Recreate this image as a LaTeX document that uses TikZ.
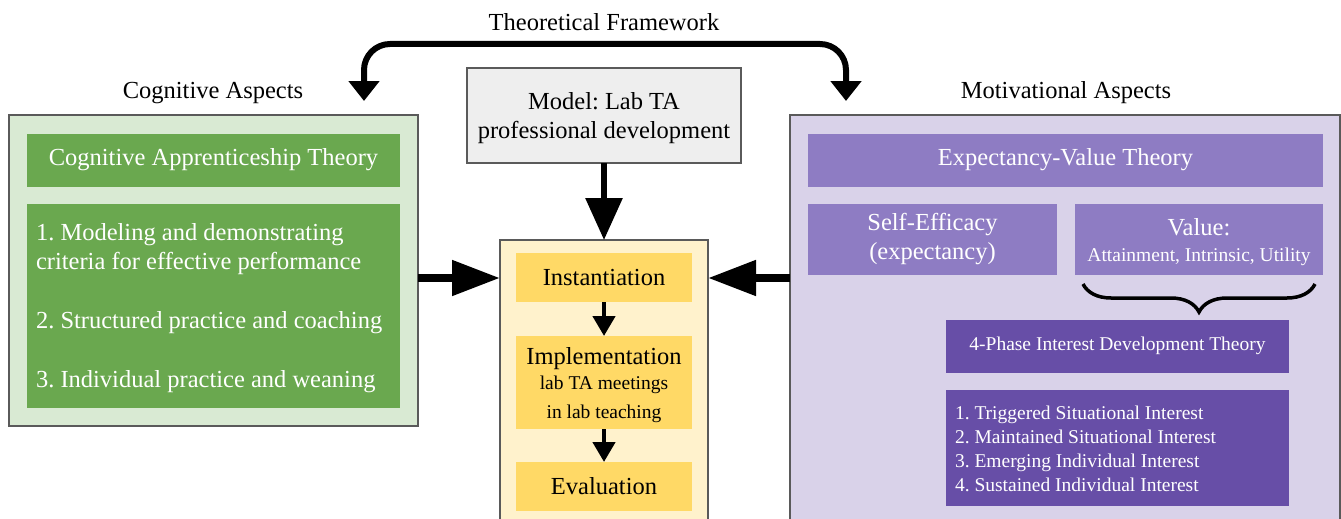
\documentclass[tikz,border=0pt]{standalone}
\usepackage{fontspec}
\setmainfont{Liberation Serif}
\frenchspacing
\usetikzlibrary{arrows.meta,decorations.pathreplacing,calc}
\definecolor{gpanel}{HTML}{D9EAD3}
\definecolor{ghead}{HTML}{6AA84F}
\definecolor{ypanel}{HTML}{FFF2CC}
\definecolor{yhead}{HTML}{FFD966}
\definecolor{ppanel}{HTML}{D9D2E9}
\definecolor{phead}{HTML}{8E7CC3}
\definecolor{pdark}{HTML}{674EA7}
\definecolor{mgray}{HTML}{EEEEEE}
\definecolor{bord}{HTML}{5A5A5A}
\begin{document}
\begin{tikzpicture}[x=1pt,y=-1pt,
  every node/.style={font=\fontsize{24.5}{29}\selectfont, inner sep=0pt, outer sep=0pt},
  panel/.style={draw=bord, line width=1.3pt},
  box/.style={draw=none},
  sz/.style 2 args={minimum width=#1pt, minimum height=#2pt},
  wtext/.style={text=white},
  small/.style={font=\fontsize{19.5}{24}\selectfont},
  bigarrow/.style={line width=8pt, -{Triangle[width=34pt,length=48pt]}},
  toparrow/.style={line width=6pt, rounded corners=26pt, {Triangle[width=30pt,length=20pt]}-{Triangle[width=30pt,length=20pt]}},
  downarrow/.style={line width=6pt, -{Triangle[width=36pt,length=42pt]}},
  smallarrow/.style={line width=4.5pt, -{Triangle[width=22pt,length=20pt]}}
]
\useasboundingbox (0,0) rectangle (1341,519);

% titles
\node (tf) at (604,22) {Theoretical Framework};
\node (cogl) at (213,93) {Cognitive Aspects};
\node (motl) at (1066,93) {Motivational Aspects};

% top double arrow
\coordinate (ltip) at (364,101);
\coordinate (rtip) at (846,101);
\draw[toparrow] (ltip) -- (364,44) -- (846,44) -- (rtip);

% model box
\node[panel, fill=mgray, sz={274}{95}] (model) at (604,115.5) {};
\node[align=center] (modeltext) at (604,118.5) {Model: Lab TA\\professional development};

% left panel
\node[panel, fill=gpanel, sz={409}{311}] (left) at (213.5,270.5) {};
\node[box, fill=ghead, sz={373}{53}, wtext] (cat) at (213.5,160) {Cognitive Apprenticeship Theory};
\node[box, fill=ghead, sz={373}{204}] (catlist) at (213.5,306) {};
\node[wtext, anchor=west, align=left] (catitems) at (36,308) {1. Modeling and demonstrating\\criteria for effective performance\\[30pt]2. Structured practice and coaching\\[30pt]3. Individual practice and weaning};

% center panel
\node[panel, fill=ypanel, sz={208}{290}] (center) at (604,385) {};
\node[box, fill=yhead, sz={176}{49}] (inst) at (604,277.5) {Instantiation};
\node[box, fill=yhead, sz={176}{93}] (impl) at (604,382.5) {};
\node[align=center] (impltext) at (604,385) {Implementation\\[-4pt]{\fontsize{19.5}{24}\selectfont lab TA meetings}\\{\fontsize{19.5}{24}\selectfont in lab teaching}};
\node[box, fill=yhead, sz={176}{49}] (eval) at (604,486.5) {Evaluation};

% right panel
\node[panel, fill=ppanel, sz={550}{415}] (right) at (1065,322.5) {};
\node[box, fill=phead, sz={515}{53}, wtext] (evt) at (1065.5,160) {Expectancy-Value Theory};
\node[box, fill=phead, sz={249}{71}, wtext, align=center] (se) at (932.5,239.5) {Self-Efficacy\\(expectancy)};
\node[box, fill=phead, sz={248}{71}] (val) at (1199,239.5) {};
\node[wtext, align=center] (valtext) at (1199,242) {Value:\\[-3pt]{\fontsize{19.5}{24}\selectfont Attainment, Intrinsic, Utility}};
\node[box, fill=pdark, sz={343}{53}, wtext, small] (pid) at (1117.5,346) {4-Phase Interest Development Theory};
\node[box, fill=pdark, sz={343}{116}] (pidlist) at (1117.5,448) {};
\node[wtext, small, anchor=west, align=left] (piditems) at (955,449) {1. Triggered Situational Interest\\2. Maintained Situational Interest\\3. Emerging Individual Interest\\4. Sustained Individual Interest};

% brace
\draw[line width=3.5pt, decorate, decoration={brace, amplitude=28pt, mirror}] (1083,284) -- (1315,284);

% arrows
\draw[downarrow] (model.south) -- (center.north);
\draw[smallarrow] (inst.south) -- (impl.north);
\draw[smallarrow] (impl.south) -- (eval.north);
\draw[bigarrow] (left.east |- 0,278) -- (center.west |- 0,278);
\draw[bigarrow] (right.west |- 0,278) -- (center.east |- 0,278);
\end{tikzpicture}
\end{document}
